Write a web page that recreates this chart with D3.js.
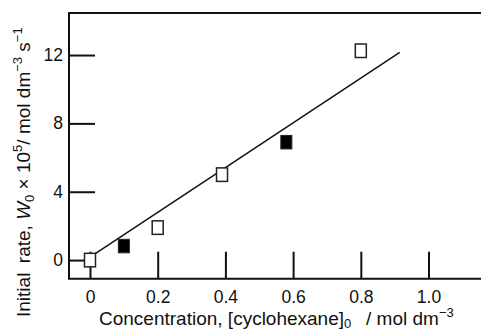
<!DOCTYPE html>
<html>
<head>
<meta charset="UTF-8">
<style>
  body { margin: 0; background: #fff; }
  svg text { font-family: "Liberation Sans", Arial, sans-serif; fill: #111; }
  .axis text { font-size: 17.5px; }
  .axis line { stroke: #111; stroke-width: 2; }
</style>
<script src="https://cdnjs.cloudflare.com/ajax/libs/d3/7.8.5/d3.min.js"></script>
</head>
<body>
<svg width="481" height="331"></svg>
<script>
// open squares
var openX = [0, 0.2, 0.39, 0.8];
var openY = [0, 1.9, 5.0, 12.25];
// filled squares
var fillX = [0.1, 0.58];
var fillY = [0.82, 6.9];
// fitted line ends
var fitX = [0, 0.915];
var fitY = [0.17, 12.16];
var xTicks = [0, 0.2, 0.4, 0.6, 0.8, 1.0];
var yTicks = [0, 4, 8, 12];

var svg = d3.select("svg");
var padL = 69, padT = 13, padB = 278.7, padR = 481;

var x = d3.scaleLinear().domain([-0.062, 1.155]).range([padL, padR]);
var y = d3.scaleLinear().domain([-1.09, 14.46]).range([padB, padT]);

// x axis, ticks pointing up
var gx = svg.append("g").attr("class", "axis")
  .attr("transform", "translate(0," + padB + ")")
  .call(d3.axisBottom(x).tickValues(xTicks).tickSizeInner(-27).tickSizeOuter(0).tickPadding(12)
    .tickFormat(function(d) { return d === 0 ? "0" : d.toFixed(1); }));
gx.select(".domain").remove();

var gy = svg.append("g").attr("class", "axis")
  .attr("transform", "translate(" + padL + ",0)")
  .call(d3.axisLeft(y).tickValues(yTicks).tickSizeInner(-26).tickSizeOuter(0).tickPadding(6));
gy.select(".domain").remove();

// frame (right side runs off the picture)
svg.append("path")
  .attr("d", "M" + (padR + 5) + "," + padT + "H" + padL + "V" + padB + "H" + (padR + 5))
  .attr("fill", "none").attr("stroke", "#111").attr("stroke-width", 2);

// fit line
svg.append("line")
  .attr("x1", x(fitX[0])).attr("y1", y(fitY[0]))
  .attr("x2", x(fitX[1])).attr("y2", y(fitY[1]))
  .attr("stroke", "#111").attr("stroke-width", 1.5);

var sw = 11, sh = 13.5;
svg.selectAll(".open").data(openX).enter().append("rect")
  .attr("class", "open")
  .attr("x", function(d) { return x(d) - sw / 2; })
  .attr("y", function(d, i) { return y(openY[i]) - sh / 2; })
  .attr("width", sw).attr("height", sh)
  .attr("fill", "#fff").attr("stroke", "#222").attr("stroke-width", 1.5);

svg.selectAll(".filled").data(fillX).enter().append("rect")
  .attr("class", "filled")
  .attr("x", function(d) { return x(d) - sw / 2; })
  .attr("y", function(d, i) { return y(fillY[i]) - sh / 2; })
  .attr("width", sw).attr("height", sh)
  .attr("fill", "#000").attr("stroke", "#222").attr("stroke-width", 1);

// x title
var xt = svg.append("text").attr("x", 99).attr("y", 325).attr("font-size", 19);
xt.append("tspan").text("Concentration, [cyclohexane]");
xt.append("tspan").attr("dy", 3).attr("font-size", 13).text("0");
xt.append("tspan").attr("dy", -3).text("\u2002 / mol dm");
xt.append("tspan").attr("dy", -8).attr("font-size", 13).text("\u22123");

// y title
var yt = svg.append("text")
  .attr("transform", "translate(30,317) rotate(-90)")
  .attr("font-size", 19);
yt.append("tspan").text("Initial\u2002rate, ");
yt.append("tspan").attr("font-style", "italic").text("W");
yt.append("tspan").attr("dy", 4).attr("font-size", 13).text("0");
yt.append("tspan").attr("dy", -4).text(" \u00d7 10");
yt.append("tspan").attr("dy", -8).attr("font-size", 13).text("5");
yt.append("tspan").attr("dy", 8).text("/ mol dm");
yt.append("tspan").attr("dy", -8).attr("font-size", 13).text("\u22123");
yt.append("tspan").attr("dy", 8).text(" s");
yt.append("tspan").attr("dy", -8).attr("font-size", 13).text("\u22121");
</script>
</body>
</html>
